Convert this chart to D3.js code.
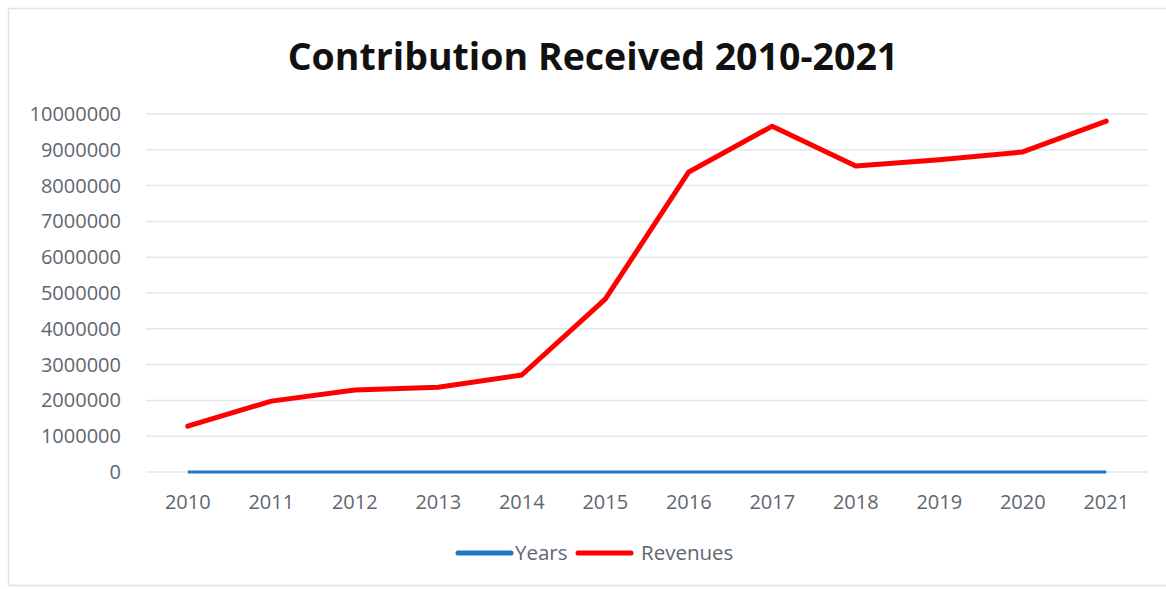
<!DOCTYPE html>
<html>
<head>
<meta charset="utf-8">
<script src="https://cdn.jsdelivr.net/npm/d3@7"></script>
<style>
  body { margin: 0; background: #fff; }
  svg { display: block; }
</style>
</head>
<body>
<script>
// data
let years = ["2010", "2011", "2012", "2013", "2014", "2015", "2016", "2017", "2018", "2019", "2020", "2021"];
let years_values = [2010, 2011, 2012, 2013, 2014, 2015, 2016, 2017, 2018, 2019, 2020, 2021];
let revenues = [1280000, 1980000, 2290000, 2370000, 2710000, 4830000, 8380000, 9660000, 8550000, 8720000, 8940000, 9800000];
let y_ticks = [0, 1000000, 2000000, 3000000, 4000000, 5000000, 6000000, 7000000, 8000000, 9000000, 10000000];

// colors
let color_blue = "#1f77c4";
let color_red = "#ff0000";
let color_grid = "#e3e6ee";
let color_text = "#5f6670";

let width = 1166;
let height = 589;
let margin = {top: 114, right: 18, bottom: 117, left: 146};

let svg = d3.select("body").append("svg")
    .attr("width", width)
    .attr("height", height);

// chart frame
svg.append("rect")
    .attr("x", 8.5).attr("y", 8.5)
    .attr("width", width - 4).attr("height", height - 12)
    .attr("fill", "none")
    .attr("stroke", "#dfe2ea")
    .attr("stroke-width", 1.5);

svg.append("text")
    .attr("x", 593).attr("y", 70)
    .attr("text-anchor", "middle")
    .attr("font-family", "Open Sans, sans-serif")
    .attr("font-weight", "bold")
    .attr("font-size", 37.5)
    .attr("fill", "#111")
    .text("Contribution Received 2010-2021");

let x = d3.scaleBand()
    .domain(years)
    .range([margin.left, width - margin.right]);

let y = d3.scaleLinear()
    .domain([0, 10000000])
    .range([height - margin.bottom, margin.top]);

// gridlines
svg.append("g")
    .selectAll("line")
    .data(y_ticks)
    .join("line")
    .attr("x1", margin.left)
    .attr("x2", width - margin.right)
    .attr("y1", d => y(d))
    .attr("y2", d => y(d))
    .attr("stroke", color_grid)
    .attr("stroke-width", 1.5);

// y axis
let y_axis = svg.append("g")
    .attr("transform", "translate(" + (margin.left - 22) + ",0)")
    .call(d3.axisLeft(y).tickValues(y_ticks).tickFormat(d3.format("d")).tickSize(0));
y_axis.select(".domain").remove();
y_axis.selectAll("text")
    .attr("font-family", "Open Sans, sans-serif")
    .attr("font-size", 20)
    .attr("fill", color_text);

// x axis
let x_axis = svg.append("g")
    .attr("transform", "translate(0," + (height - margin.bottom + 20) + ")")
    .call(d3.axisBottom(x).tickSize(0));
x_axis.select(".domain").remove();
x_axis.selectAll("text")
    .attr("font-family", "Open Sans, sans-serif")
    .attr("font-size", 20)
    .attr("fill", color_text);

let cx = d => x(d) + x.bandwidth() / 2;

let line_years = d3.line()
    .x((d, i) => cx(years[i]))
    .y(d => y(d));

svg.append("path")
    .datum(years_values)
    .attr("d", line_years)
    .attr("fill", "none")
    .attr("stroke", color_blue)
    .attr("stroke-width", 3);

svg.append("path")
    .datum(revenues)
    .attr("d", line_years)
    .attr("fill", "none")
    .attr("stroke", color_red)
    .attr("stroke-width", 5)
    .attr("stroke-linejoin", "round")
    .attr("stroke-linecap", "round");

// legend
let legend = [
    {name: "Years", color: color_blue, x: 458},
    {name: "Revenues", color: color_red, x: 578}
];
let lg = svg.append("g").selectAll("g").data(legend).join("g")
    .attr("transform", d => "translate(" + d.x + ",553)");
lg.append("line")
    .attr("x1", 0).attr("x2", 53)
    .attr("stroke", d => d.color)
    .attr("stroke-width", 5)
    .attr("stroke-linecap", "round");
lg.append("text")
    .attr("x", d => d.name === "Years" ? 57 : 63)
    .attr("dy", "0.35em")
    .attr("font-family", "Open Sans, sans-serif")
    .attr("font-size", 20.5)
    .attr("fill", color_text)
    .text(d => d.name);
</script>
</body>
</html>
